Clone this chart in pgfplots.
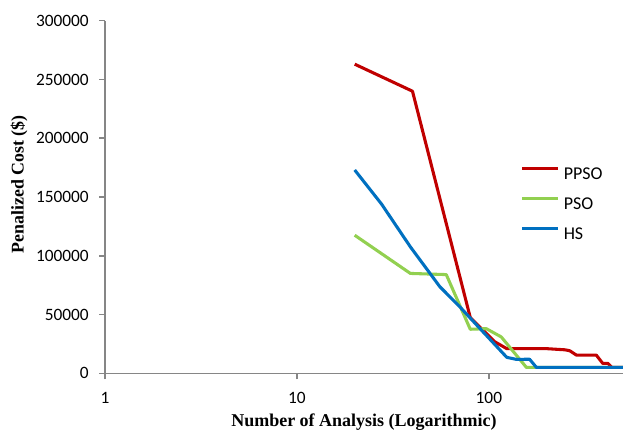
\documentclass[border=0pt]{standalone}
\usepackage{pgfplots}
\pgfplotsset{compat=1.18}
\usepackage{fontspec}
\setmainfont{Carlito}
\newfontfamily\tnr{Liberation Serif}
\definecolor{ppso}{RGB}{192,0,0}
\definecolor{pso}{RGB}{146,208,80}
\definecolor{hs}{RGB}{0,112,192}
\definecolor{axgray}{RGB}{134,134,134}
\begin{document}
\begin{tikzpicture}
\begin{axis}[
  scale only axis,
  width=388.5pt, height=264.5pt,
  xmode=log, log basis x=10,
  xmin=1, xmax=500, ymin=0, ymax=300000,
  scaled y ticks=false,
  axis x line=bottom, axis y line=left,
  axis line style={-, draw=axgray, line width=1.1pt},
  xtick={1,10,100}, xticklabels={1,10,100},
  ytick={0,50000,100000,150000,200000,250000,300000},
  yticklabels={0,50000,100000,150000,200000,250000,300000},
  minor xtick={}, minor ytick={},
  tick align=outside, major tick length=4.5pt,
  tick style={draw=axgray, line width=1.1pt},
  ticklabel style={font=\fontsize{13}{15}\selectfont, text=black},
  yticklabel style={inner sep=0pt, xshift=-7.5pt},
  xticklabel style={inner sep=0pt, yshift=-9.5pt},
  xlabel={Number of Analysis (Logarithmic)},
  ylabel={Penalized Cost (\$)},
  xlabel style={font=\tnr\bfseries\fontsize{13.5}{15}\selectfont, at={(axis description cs:0.5,0)}, anchor=center, yshift=-36.5pt},
  ylabel style={font=\tnr\bfseries\fontsize{13.4}{15}\selectfont, at={(axis description cs:0,0.5355)}, anchor=center, rotate=0, yshift=64.5pt},
  legend style={draw=none, fill=none, inner sep=0pt, outer sep=0pt,
    at={(axis description cs:0.8025,0.585)}, anchor=north west,
    font=\fontsize{13.5}{15}\selectfont,
    nodes={inner sep=0pt, text height=9pt, text depth=2pt},
    row sep=11.5pt, column sep=3pt},
  legend cell align=left,
  legend image code/.code={\draw[#1] (0pt,4.5pt) -- (27pt,4.5pt);},
  clip=false,
]
\addplot[ppso, line width=2.3pt, line join=round] coordinates {
(20,263000) (40,240000) (80,47500) (107,27000) (124,21000) (200,21000)
(250,20000) (264,19200) (286,15500) (363,15500) (392,8500) (417,8500)
(437,5000) (500,5000)};
\addlegendentry{PPSO}
\addplot[pso, line width=2.3pt, line join=round] coordinates {
(20,117500) (39,85000) (60,84000) (80,37500) (97,38000) (116,31000)
(157,5000) (500,5000)};
\addlegendentry{PSO}
\addplot[hs, line width=2.3pt, line join=round] coordinates {
(20,173000) (27.6,144000) (39,107600) (55.6,73600) (70.6,56600) (90,38000)
(124,13600) (139,11900) (163,12000) (177,5000) (500,5000)};
\addlegendentry{HS}
\end{axis}
\pgfresetboundingbox
\useasboundingbox (-78.75pt,-44.8pt) rectangle (388.5pt,280pt);
\end{tikzpicture}
\end{document}
